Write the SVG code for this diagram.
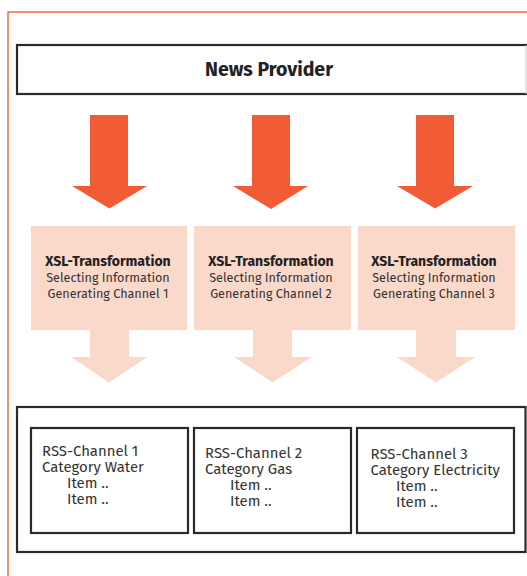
<svg xmlns="http://www.w3.org/2000/svg" width="527" height="576" viewBox="0 0 527 576">
  <style>
    .frame { fill: none; stroke: #f26b46; stroke-width: 1.5; }
    .box { fill: #ffffff; stroke: #2a2a2a; stroke-width: 2.2; }
    .xsl { fill: #fad9ca; }
    .push { fill: #f15c37; }
    .flow { fill: #fad9ca; }
    .title { font-family: "Fira Sans", "Open Sans", "Liberation Sans", sans-serif; font-weight: bold; fill: #222; }
    .t { font-family: "Fira Sans", "Open Sans", "Liberation Sans", sans-serif; fill: #333; }
  </style>

  <rect width="527" height="576" fill="#ffffff"/>
  <!-- outer orange frame (continues past the canvas) -->
  <rect class="frame" x="8" y="12" width="540" height="600"/>

  <!-- source node -->
  <g id="news-provider">
    <rect class="box" x="17" y="45" width="530" height="49"/>
    <line x1="526" y1="45" x2="526" y2="94" stroke="#c8c8c8" stroke-width="1"/>
    <text class="title" x="269" y="76" font-size="19.5" text-anchor="middle">News Provider</text>
  </g>

  <!-- block arrows from provider to transformations -->
  <g id="connectors">
    <polygon class="push" points="90,115 128,115 128,186 147,186 109.5,208.5 72,186 90,186"/>
    <polygon class="push" points="252,115 290,115 290,186 308,186 271,209 233,186 252,186"/>
    <polygon class="push" points="416,115 454,115 454,186 473,186 435,208.5 397,186 416,186"/>

    <polygon class="flow" points="90,329 129,329 129,357 147,357 109,382.5 71,357 90,357"/>
    <polygon class="flow" points="253,329 292,329 292,357 311.5,357 272.5,382.5 234,357 253,357"/>
    <polygon class="flow" points="416,329 456,329 456,357 475,357 436,382.5 397,357 416,357"/>
  </g>

  <!-- transformation nodes -->
  <g id="xsl-1">
    <rect class="xsl" x="31" y="226" width="156" height="104"/>
    <text class="title" x="108" y="266" font-size="14" text-anchor="middle">XSL-Transformation</text>
    <text class="t" x="108" y="282" font-size="12.6" text-anchor="middle">Selecting Information</text>
    <text class="t" x="108" y="298" font-size="12.6" text-anchor="middle">Generating Channel 1</text>
  </g>
  <g id="xsl-2">
    <rect class="xsl" x="194" y="226" width="157" height="104"/>
    <text class="title" x="271" y="266" font-size="14" text-anchor="middle">XSL-Transformation</text>
    <text class="t" x="271" y="282" font-size="12.6" text-anchor="middle">Selecting Information</text>
    <text class="t" x="271" y="298" font-size="12.6" text-anchor="middle">Generating Channel 2</text>
  </g>
  <g id="xsl-3">
    <rect class="xsl" x="358" y="226" width="157" height="104"/>
    <text class="title" x="434" y="266" font-size="14" text-anchor="middle">XSL-Transformation</text>
    <text class="t" x="434" y="282" font-size="12.6" text-anchor="middle">Selecting Information</text>
    <text class="t" x="434" y="298" font-size="12.6" text-anchor="middle">Generating Channel 3</text>
  </g>

  <!-- channel container -->
  <g id="channels">
    <rect class="box" x="17" y="407" width="508.5" height="145"/>
  </g>

  <g id="rss-1">
    <rect class="box" x="31" y="428" width="157" height="105" stroke-width="2.6"/>
    <text class="t" font-size="14.9">
      <tspan x="42" y="456">RSS-Channel 1</tspan>
      <tspan x="42" y="472">Category Water</tspan>
      <tspan x="67" y="488">Item ..</tspan>
      <tspan x="67" y="504">Item ..</tspan>
    </text>
  </g>
  <g id="rss-2">
    <rect class="box" x="194" y="428" width="157" height="105" stroke-width="2.6"/>
    <text class="t" font-size="14.9">
      <tspan x="205" y="458">RSS-Channel 2</tspan>
      <tspan x="205" y="474">Category Gas</tspan>
      <tspan x="230" y="490">Item ..</tspan>
      <tspan x="230" y="506">Item ..</tspan>
    </text>
  </g>
  <g id="rss-3">
    <rect class="box" x="357" y="428" width="157" height="105" stroke-width="2.6"/>
    <text class="t" font-size="14.9">
      <tspan x="370.5" y="459">RSS-Channel 3</tspan>
      <tspan x="370.5" y="475">Category Electricity</tspan>
      <tspan x="396" y="491">Item ..</tspan>
      <tspan x="396" y="507">Item ..</tspan>
    </text>
  </g>
</svg>
